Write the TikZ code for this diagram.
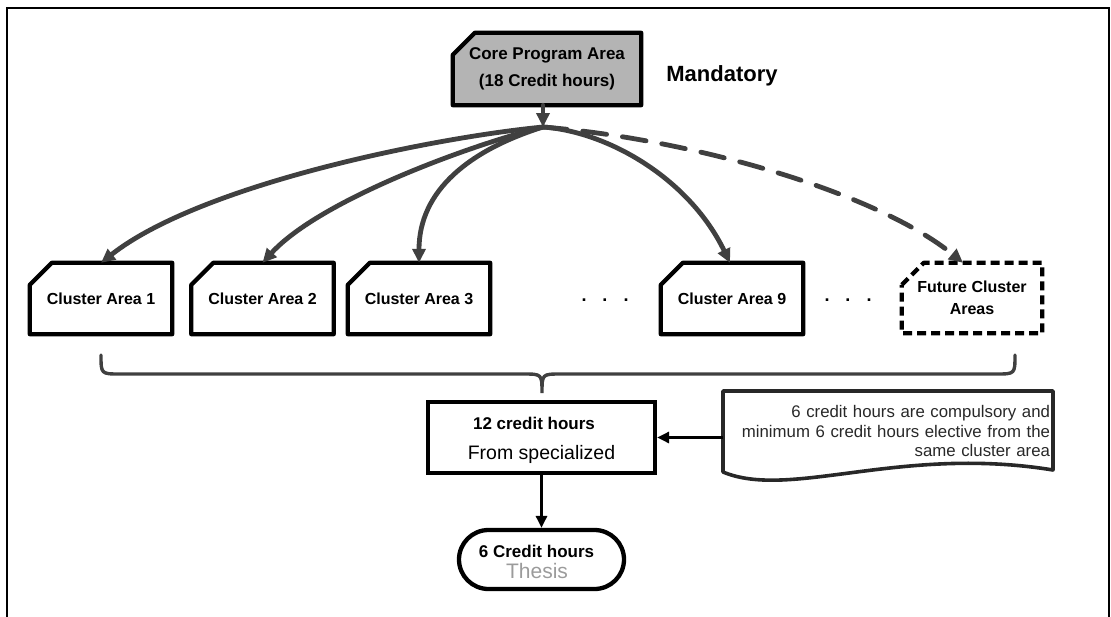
\documentclass[tikz,border=0pt]{standalone}
\usepackage{fontspec}
\setmainfont{Liberation Sans}
\usetikzlibrary{arrows.meta,calc,backgrounds,shapes.misc}

\definecolor{linkgray}{RGB}{64,64,64}
\definecolor{corefill}{RGB}{180,180,180}
\definecolor{notegray}{RGB}{40,40,40}
\definecolor{thesisgray}{RGB}{155,155,155}

% outline of a box with its top-left corner cut off
\newcommand\chamferbox[2][]{%
  \draw[boxline,#1] ([yshift=-22pt]#2.north west) -- ([xshift=22pt]#2.north west)
    -- (#2.north east) -- (#2.south east) -- (#2.south west) -- cycle;}

\begin{document}
\begin{tikzpicture}[x=1pt,y=-1pt,
  boxline/.style={line width=4.3pt, line join=round},
  areabox/.style={minimum width=142pt, minimum height=71pt, inner sep=0pt,
    font=\fontsize{16}{22}\selectfont\bfseries, align=center},
  link/.style={draw=linkgray, line width=4.8pt, line cap=round,
    -{Triangle[length=14pt,width=13pt]}},
  blackarrow/.style={draw=black, line width=3.3pt,
    -{Triangle[length=12pt,width=11pt]}},
  boldlabel/.style={inner sep=0pt, anchor=base, font=\fontsize{17}{20}\selectfont\bfseries},
]
\useasboundingbox (0,0) rectangle (1111,616);

% outer frame (open at the bottom)
\draw[line width=2.4pt] (7,640) -- (7,8) -- (1109,8) -- (1109,640);

% core area
\node[areabox, minimum width=188pt, minimum height=72pt,
      font=\fontsize{17}{27}\selectfont\bfseries] (core) at (547,69)
  {Core Program Area\\(18 Credit hours)};
\node[inner sep=0pt, anchor=base, font=\fontsize{22}{26}\selectfont\bfseries]
  (mand) at (722,81) {Mandatory};
\coordinate (hub) at (543,127);

% cluster areas
\node[areabox] (c1) at (101,298.5) {Cluster Area 1};
\node[areabox] (c2) at (262.5,298.5) {Cluster Area 2};
\node[areabox] (c3) at (419,298.5) {Cluster Area 3};
\node[areabox] (c9) at (732,298.5) {Cluster Area 9};
\node[areabox, minimum width=140pt, minimum height=70pt] (fut) at (972,298)
  {Future Cluster\\Areas};
\node[inner sep=0pt, anchor=base, font=\fontsize{18}{19}\selectfont\bfseries]
  (dotsA) at (605,301) {.\hspace{16pt}.\hspace{16pt}.};
\node[inner sep=0pt, anchor=base, font=\fontsize{18}{19}\selectfont\bfseries]
  (dotsB) at (848,301) {.\hspace{16pt}.\hspace{16pt}.};

\begin{scope}[on background layer]
  \chamferbox[fill=corefill]{core}
  \chamferbox{c1}
  \chamferbox{c2}
  \chamferbox{c3}
  \chamferbox{c9}
  \chamferbox[dash pattern=on 9pt off 5pt]{fut}
\end{scope}

% links from the core area
\draw[link] ($(core.south)+(-4,0)$) -- (hub);
\draw[link] (hub) .. controls (430,138) and (200,185) .. (c1.north);
\draw[link] (hub) .. controls (470,145) and (320,200) .. (c2.north);
\draw[link] (hub) .. controls (470,150) and (419,190) .. (c3.north);
\draw[link] (hub) .. controls (610,132) and (690,180) .. ([xshift=-2pt]c9.north);
\draw[link, dash pattern=on 24pt off 16pt] (hub) .. controls (700,140) and (880,195)
  .. ([xshift=-9pt]fut.north);

% brace gathering the clusters
\draw[draw=linkgray, line width=3.4pt, line cap=round]
  (101,355) .. controls (101,374) .. (120,374) -- (523,374)
  .. controls (542,374) .. (542,393) .. controls (542,374) .. (561,374)
  -- (996,374) .. controls (1015,374) .. (1015,355);

% specialised credit hours
\node[draw, line width=4.3pt, minimum width=227pt, minimum height=71pt, inner sep=0pt]
  (spec) at (541.5,437.5) {};
\node[boldlabel] (specA) at (534,429) {12 credit hours};
\node[inner sep=0pt, anchor=base, font=\fontsize{19.5}{22}\selectfont]
  (specB) at (541.5,459) {From specialized};

% explanatory note
\node[minimum width=330pt, minimum height=79pt, text width=324pt, inner xsep=3pt,
      inner ysep=0pt, align=right, text=notegray,
      font=\fontsize{16.8}{19.5}\selectfont] (note) at (888,431)
  {6 credit hours are compulsory and\\minimum 6 credit hours elective from the\\same cluster area};
\draw[line width=3.6pt, line join=round, draw=notegray]
  (723,391) -- (1053,391) -- (1053,470)
  .. controls (900,445) and (790,500) .. (723,472) -- cycle;
\draw[blackarrow] (note.west |- spec.east) -- (spec.east);

% thesis
\node[draw, rounded rectangle, line width=4.3pt, minimum width=165pt,
      minimum height=59pt, inner sep=0pt] (thesis) at (541.5,559.5) {};
\node[boldlabel] (thA) at (536.5,557) {6 Credit hours};
\node[inner sep=0pt, anchor=base, font=\fontsize{21}{24}\selectfont, text=thesisgray]
  (thB) at (537,578) {Thesis};
\draw[blackarrow] (spec.south) -- (thesis.north);
\end{tikzpicture}
\end{document}
